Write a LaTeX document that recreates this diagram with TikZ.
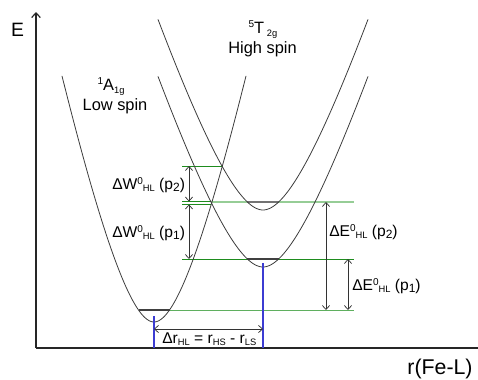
\documentclass[tikz,border=0pt]{standalone}
\usepackage{fontspec}
\setmainfont{Liberation Sans}
\usetikzlibrary{arrows.meta}
\definecolor{curvec}{RGB}{60,60,60}
\definecolor{gdark}{RGB}{30,140,30}
\definecolor{glight}{RGB}{150,205,150}
\definecolor{gmid}{RGB}{95,175,95}
\definecolor{bl}{RGB}{60,60,210}
\newcommand{\upx}[1]{\raisebox{0.6ex}{\fontsize{7.5}{8}\selectfont #1}}
\newcommand{\dnx}[1]{\raisebox{-0.35ex}{\fontsize{7}{8}\selectfont #1}}
\newcommand{\dnp}[1]{\raisebox{-0.25ex}{\fontsize{9}{9}\selectfont #1}}
\begin{document}
\begin{tikzpicture}[x=0.75pt,y=-0.75pt,
  curve/.style={draw=curvec,line width=0.6pt},
  axisline/.style={draw=black!85,line width=0.9pt},
  dim/.style={draw=black!80,line width=0.55pt,{Straight Barb[length=3pt,width=5.5pt]}-{Straight Barb[length=3pt,width=5.5pt]}},
  lev/.style={draw=black!75,line width=0.8pt},
  glab/.style={font=\fontsize{11.7}{13}\selectfont,inner sep=0pt,anchor=base west},
  tlab/.style={font=\fontsize{12.3}{14}\selectfont,inner sep=0pt,anchor=base},
  blue/.style={draw=bl,line width=0.8pt}]
\useasboundingbox (0,0) rectangle (478,379);

% axes
\coordinate (o) at (36,348);
\coordinate (ytop) at (36,12);
\coordinate (xend) at (478,348);
\draw[axisline,-{Straight Barb[length=3.5pt,width=6.5pt]}] (o) -- (ytop);
\draw[axisline] (o) -- (xend);
\node[font=\fontsize{14.5}{16}\selectfont,inner sep=0pt] (E) at (17.5,29.5) {E};
\node[font=\fontsize{16}{18}\selectfont,inner sep=0pt,anchor=base] (rlab) at (440,374) {r(Fe-L)};

% green lines
\draw[draw=glight,line width=1.4pt] (211,202) -- (354,202);
\draw[draw=gdark,line width=0.75pt] (182,166) -- (222,166);
\draw[draw=gdark,line width=0.75pt] (182,201.5) -- (211,201.5);
\draw[draw=gdark,line width=0.75pt] (182,204.5) -- (211,204.5);
\draw[draw=gdark,line width=0.75pt] (182,259) -- (354,259);
\draw[draw=gmid,line width=0.75pt] (170,310) -- (354,310);

% level segments
\draw[lev] (138.5,310) -- (169.5,310);
\draw[lev] (247,259) -- (279,259);
\draw[draw=black!55,line width=1.1pt] (247,202) -- (279,202);

% curves
\draw[curve] plot[domain=-92:92,samples=121,smooth] ({154+\x},{322-0.0585*\x*\x/(1+0.011*abs(\x))});
\draw[curve] plot[domain=-105:105,samples=121,smooth] ({263+\x},{267-0.0389*\x*\x/(1+0.0119*abs(\x))});
\draw[curve] plot[domain=-105:105,samples=121,smooth] ({263+\x},{210-0.0389*\x*\x/(1+0.0119*abs(\x))});

% blue lines
\coordinate (bls) at (154,316);
\coordinate (blsb) at (154,348);
\coordinate (bhs) at (263,263);
\coordinate (bhsb) at (263,348);
\draw[blue] (bls) -- (blsb);
\draw[blue] (bhs) -- (bhsb);

% dimension arrows
\coordinate (w2a) at (189,166);
\coordinate (w2b) at (189,201.5);
\coordinate (w1a) at (189,204.5);
\coordinate (w1b) at (189,259);
\coordinate (e2a) at (326,202);
\coordinate (e2b) at (326,310);
\coordinate (e1a) at (348,259);
\coordinate (e1b) at (348,310);
\coordinate (ra) at (154,329);
\coordinate (rb) at (263,329);
\draw[dim] (w2a) -- (w2b);
\draw[dim] (w1a) -- (w1b);
\draw[dim] (e2a) -- (e2b);
\draw[dim] (e1a) -- (e1b);
\draw[dim] (ra) -- (rb);

% labels
\node[glab] (lw2) at (112,189) {ΔW\upx{0}\dnx{HL} (p\dnp{2})};
\node[glab] (lw1) at (112,237) {ΔW\upx{0}\dnx{HL} (p\dnp{1})};
\node[glab] (le2) at (329,236) {ΔE\upx{0}\dnx{HL} (p\dnp{2})};
\node[glab] (le1) at (352,290) {ΔE\upx{0}\dnx{HL} (p\dnp{1})};
\node[glab] (lr) at (162,343) {Δr\dnx{HL} = r\dnx{HS} - r\dnx{LS}};

\node[tlab] (ls1) at (111,90) {\upx{1}A\dnx{1g}};
\node[tlab] (ls2) at (115,110) {Low spin};
\node[tlab] (hs1) at (263,33) {\upx{5}T\,\dnx{2g}};
\node[tlab] (hs2) at (262.5,53) {High spin};
\end{tikzpicture}
\end{document}
